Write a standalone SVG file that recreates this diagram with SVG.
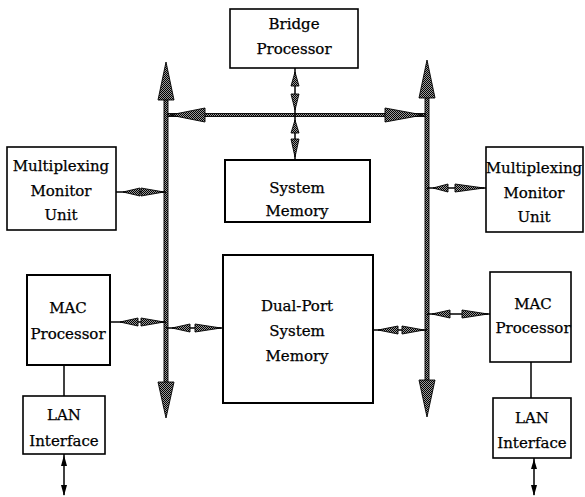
<svg xmlns="http://www.w3.org/2000/svg" width="585" height="497" viewBox="0 0 585 497">
<defs>
<pattern id="dith" width="2" height="2" patternUnits="userSpaceOnUse">
<rect width="2" height="2" fill="#9a9a9a"/>
<rect x="0" y="0" width="1" height="1" fill="#000"/>
<rect x="1" y="1" width="1" height="1" fill="#000"/>
</pattern>
</defs>
<style>
.box{fill:#fff;stroke:#000;stroke-width:1.6}
.boxb{fill:#fff;stroke:#000;stroke-width:2}
.t{font-family:"DejaVu Serif","Liberation Serif",serif;font-size:15px;text-anchor:middle;fill:#000;stroke:#000;stroke-width:0.25}
.d{fill:url(#dith);stroke:#000;stroke-width:0.9}
.ln{stroke:#000;stroke-width:1.5;fill:none}
.sh{fill:#000}
</style>

<g id="connectors">
<!-- left bus -->
<rect class="d" x="164" y="98" width="4" height="286"/>
<polygon class="d" points="166,62 158,100 174,100"/>
<polygon class="d" points="166,418 158,382 174,382"/>
<!-- right bus -->
<rect class="d" x="425" y="96" width="4" height="286"/>
<polygon class="d" points="427,60 419,98 435,98"/>
<polygon class="d" points="427,417 419,380 435,380"/>
<!-- horizontal bus -->
<rect class="d" x="168" y="113.5" width="257" height="3"/>
<polygon class="d" points="170,115 205,108 205,122"/>
<polygon class="d" points="423,115 385,108 385,122"/>
<!-- bridge to bus -->
<line class="ln" x1="295" y1="68" x2="295" y2="160"/>
<polygon class="d" points="295,72 291,86 299,86"/>
<polygon class="d" points="295,110 291,94 299,94"/>
<polygon class="d" points="295,120 291,133 299,133"/>
<polygon class="d" points="295,157 291,139 299,139"/>
<!-- left mux -->
<line class="ln" x1="116" y1="192" x2="166" y2="192"/>
<polygon class="d" points="123,192 140,188 140,196"/>
<polygon class="d" points="164,192 141,188 141,196"/>
<!-- right mux -->
<line class="ln" x1="427" y1="188" x2="486" y2="188"/>
<polygon class="d" points="433,188 448,184 448,192"/>
<polygon class="d" points="484,188 455,184 455,192"/>
<!-- left MAC -->
<line class="ln" x1="110" y1="322" x2="166" y2="322"/>
<polygon class="d" points="120,322 138,318 138,326"/>
<polygon class="d" points="164,322 141,318 141,326"/>
<!-- left bus to dual-port -->
<line class="ln" x1="166" y1="328" x2="223" y2="328"/>
<polygon class="d" points="172,328 190,324 190,332"/>
<polygon class="d" points="221,328 195,324 195,332"/>
<!-- dual-port to right bus -->
<line class="ln" x1="373" y1="330" x2="427" y2="330"/>
<polygon class="d" points="378,330 398,326 398,334"/>
<polygon class="d" points="424,330 402,326 402,334"/>
<!-- right bus to right MAC -->
<line class="ln" x1="427" y1="314" x2="490" y2="314"/>
<polygon class="d" points="432,314 450,310 450,318"/>
<polygon class="d" points="488,314 462,310 462,318"/>
<!-- MAC to LAN -->
<line class="ln" x1="64" y1="365" x2="64" y2="396"/>
<line class="ln" x1="531" y1="362" x2="531" y2="398"/>
<!-- LAN external -->
<line class="ln" x1="64" y1="454" x2="64" y2="495"/>
<polygon class="sh" points="64,455 61,466 67,466"/>
<polygon class="sh" points="64,496 61,485 67,485"/>
<line class="ln" x1="534" y1="458" x2="534" y2="495"/>
<polygon class="sh" points="534,459 531,469 537,469"/>
<polygon class="sh" points="534,496 531,485 537,485"/>
</g>

<g id="bridge">
<rect class="box" x="230" y="9" width="128" height="59"/>
<text class="t" x="294" y="29">Bridge</text>
<text class="t" x="294" y="54">Processor</text>
</g>
<g id="sysmem">
<rect class="boxb" x="225" y="160" width="145" height="62"/>
<text class="t" x="297" y="193">System</text>
<text class="t" x="297" y="216">Memory</text>
</g>
<g id="dualport">
<rect class="boxb" x="223" y="255" width="150" height="148"/>
<text class="t" x="297" y="311">Dual-Port</text>
<text class="t" x="297" y="336">System</text>
<text class="t" x="297" y="361">Memory</text>
</g>
<g id="mux-left">
<rect class="box" x="7" y="147" width="109" height="83"/>
<text class="t" x="61" y="171">Multiplexing</text>
<text class="t" x="61" y="196">Monitor</text>
<text class="t" x="61" y="220">Unit</text>
</g>
<g id="mux-right">
<rect class="box" x="486" y="147" width="97" height="85"/>
<text class="t" x="534" y="173">Multiplexing</text>
<text class="t" x="534" y="198">Monitor</text>
<text class="t" x="534" y="222">Unit</text>
</g>
<g id="mac-left">
<rect class="boxb" x="27" y="275" width="83" height="90"/>
<text class="t" x="68" y="313">MAC</text>
<text class="t" x="68" y="339">Processor</text>
</g>
<g id="lan-left">
<rect class="box" x="23" y="396" width="82" height="58"/>
<text class="t" x="64" y="420">LAN</text>
<text class="t" x="64" y="446">Interface</text>
</g>
<g id="mac-right">
<rect class="box" x="490" y="272" width="81" height="90"/>
<text class="t" x="533" y="309">MAC</text>
<text class="t" x="533" y="333">Processor</text>
</g>
<g id="lan-right">
<rect class="box" x="493" y="398" width="78" height="60"/>
<text class="t" x="532" y="423">LAN</text>
<text class="t" x="532" y="448">Interface</text>
</g>
</svg>
